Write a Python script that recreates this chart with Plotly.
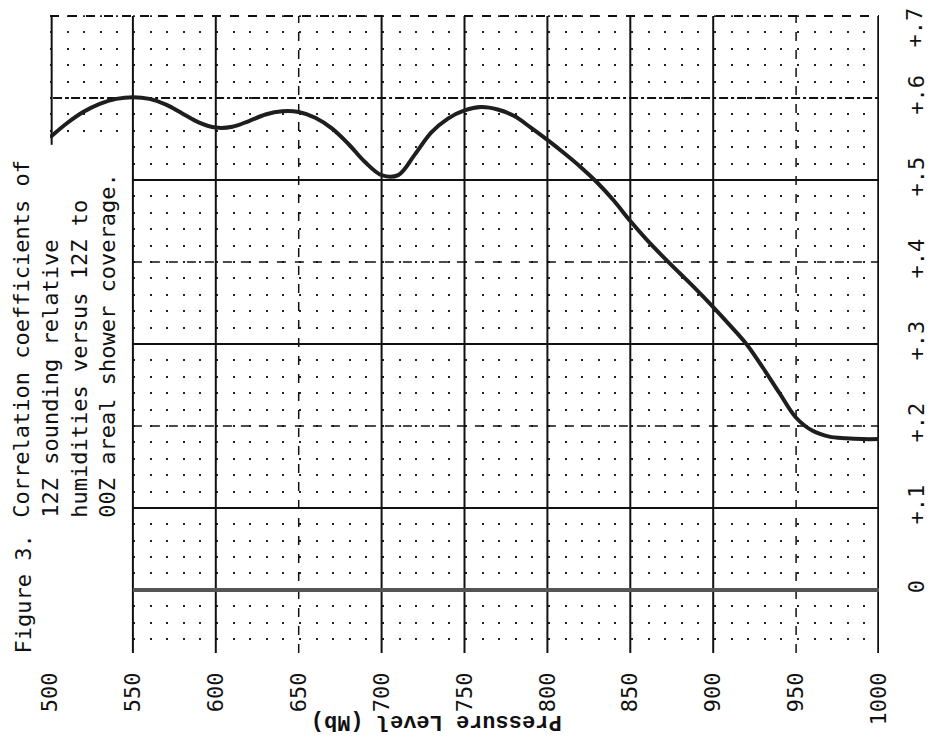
import plotly.graph_objects as go

# ---- data ----
pressure = [500, 510, 520, 530, 540, 550, 560, 570, 580, 590,
            600, 610, 620, 630, 640, 650, 660, 670, 680, 690,
            700, 710, 720, 730, 740, 750, 760, 770, 780, 790,
            800, 810, 820, 830, 840, 850, 860, 870, 880, 890,
            900, 910, 920, 930, 940, 950, 960, 970, 980, 990, 1000]
corr = [0.552, 0.569, 0.583, 0.593, 0.599, 0.601, 0.599, 0.592, 0.581, 0.570,
        0.564, 0.565, 0.572, 0.580, 0.584, 0.583, 0.576, 0.563, 0.544, 0.522,
        0.506, 0.506, 0.531, 0.558, 0.575, 0.585, 0.589, 0.586, 0.578, 0.564,
        0.549, 0.533, 0.516, 0.497, 0.475, 0.450, 0.427, 0.406, 0.386, 0.366,
        0.345, 0.323, 0.300, 0.271, 0.240, 0.210, 0.194, 0.187, 0.185, 0.184, 0.184]

x_ticks = [500, 550, 600, 650, 700, 750, 800, 850, 900, 950, 1000]
x_tick_text = ["500", "550", "600", "650", "700", "750", "800", "850", "900", "950", "1000"]
y_ticks = [0, 0.1, 0.2, 0.3, 0.4, 0.5, 0.6, 0.7]
y_tick_text = ["0", "+.1", "+.2", "+.3", "+.4", "+.5", "+.6", "+.7"]

# grid line styles (decoration)
x_grid = [550, 600, 650, 700, 750, 800, 850, 900, 950, 1000]
x_grid_dash = ["solid", "solid", "dash", "solid", "solid", "solid", "solid", "solid", "dash", "solid"]
x_grid_width = [2, 2, 1.5, 2, 2, 2, 2, 2, 1.5, 3.5]
y_grid = [0.7, 0.6, 0.5, 0.4, 0.3, 0.2, 0.1, 0.0]
y_grid_dash = ["dash", "dashdot", "solid", "dash", "solid", "dash", "solid", "solid"]
y_grid_width = [2, 2, 2, 1.5, 2, 1.5, 2, 4]
y_grid_color = ["#111", "#111", "#111", "#111", "#111", "#111", "#111", "#555"]
y_grid_start = [500, 491, 550, 550, 550, 550, 550, 550]

X_RANGE = [500, 1000]
Y_RANGE = [-0.077, 0.705]

FONT = "DejaVu Sans Mono"

fig = go.Figure()
fig.add_trace(go.Scatter(
    x=pressure, y=corr, mode="lines",
    line=dict(color="#1e1e1e", width=4, shape="spline", smoothing=1.0),
    hoverinfo="skip", showlegend=False,
))

shapes = []
# blank out the lower-left strip (no grid paper there)
shapes.append(dict(type="rect", xref="x", yref="y", x0=490, x1=549.5, y0=-0.1, y1=0.543,
                   fillcolor="white", line=dict(width=0), layer="between"))
# blank strip above the top border
shapes.append(dict(type="rect", xref="x", yref="y", x0=490, x1=1010, y0=0.701, y1=0.72,
                   fillcolor="white", line=dict(width=0), layer="between"))
for xv, d, w in zip(x_grid, x_grid_dash, x_grid_width):
    shapes.append(dict(type="line", xref="x", yref="y", x0=xv, x1=xv, y0=Y_RANGE[0], y1=0.7,
                       line=dict(color="#111", width=w, dash=d), layer="between"))
# small box edge at 500 mb on top-left
shapes.append(dict(type="line", xref="x", yref="y", x0=501, x1=501, y0=0.543, y1=0.7,
                   line=dict(color="#111", width=2), layer="between"))
for yv, d, w, c, s in zip(y_grid, y_grid_dash, y_grid_width, y_grid_color, y_grid_start):
    shapes.append(dict(type="line", xref="x", yref="y", x0=s, x1=1000, y0=yv, y1=yv,
                       line=dict(color=c, width=w, dash=d), layer="between"))

annotations = [
    dict(text="Figure 3.", xref="paper", yref="paper", x=-0.032, y=-0.004,
         xanchor="center", yanchor="bottom", textangle=-90, showarrow=False,
         font=dict(family=FONT, size=22, color="#111")),
    dict(text="Correlation coefficients of<br>12Z sounding relative<br>humidities versus 12Z to<br>00Z areal shower coverage.",
         xref="paper", yref="paper", x=0.0175, y=0.2072,
         xanchor="center", yanchor="bottom", align="left", textangle=-90, showarrow=False,
         font=dict(family=FONT, size=22, color="#111")),
    dict(text="<b>Pressure Level (Mb)</b>", xref="paper", yref="paper", x=0.4660, y=-0.1060,
         xanchor="center", yanchor="middle", textangle=180, showarrow=False,
         font=dict(family="Liberation Mono", size=22, color="#111")),
    # top tick label, nudged down so it stays inside the page
    dict(text=y_tick_text[-1], xref="paper", yref="y", x=1, y=y_ticks[-1],
         xanchor="left", yanchor="middle", xshift=21, yshift=-12, textangle=-90, showarrow=False,
         font=dict(family=FONT, size=22, color="#111")),
]

# page body has an 8px margin, so the figure is sized/offset to fill the 941x740 window
fig.update_layout(
    width=933, height=732,
    margin=dict(l=42, r=62, t=4, b=87, autoexpand=False),
    paper_bgcolor="white", plot_bgcolor="white",
    shapes=shapes, annotations=annotations,
    showlegend=False,
    xaxis=dict(range=X_RANGE, tickvals=x_ticks, ticktext=x_tick_text, tickangle=-90,
               showgrid=False, zeroline=False, showline=False, ticks="", automargin=False,
               ticklabelstandoff=14, ticklabeloverflow="allow",
               tickfont=dict(family=FONT, size=22, color="#111"),
               minor=dict(dtick=10, tick0=500, showgrid=False)),
    yaxis=dict(range=Y_RANGE, side="right", tickvals=y_ticks[:-1], ticktext=y_tick_text[:-1],
               tickangle=-90,
               showgrid=False, zeroline=False, showline=False, ticks="", automargin=False,
               ticklabelstandoff=22, ticklabeloverflow="allow",
               tickfont=dict(family=FONT, size=22, color="#111"),
               minor=dict(dtick=0.02, tick0=0, showgrid=True, gridcolor="#222", gridwidth=2,
                          griddash="2px,14.6px")),
)

fig.write_html("out.html")
